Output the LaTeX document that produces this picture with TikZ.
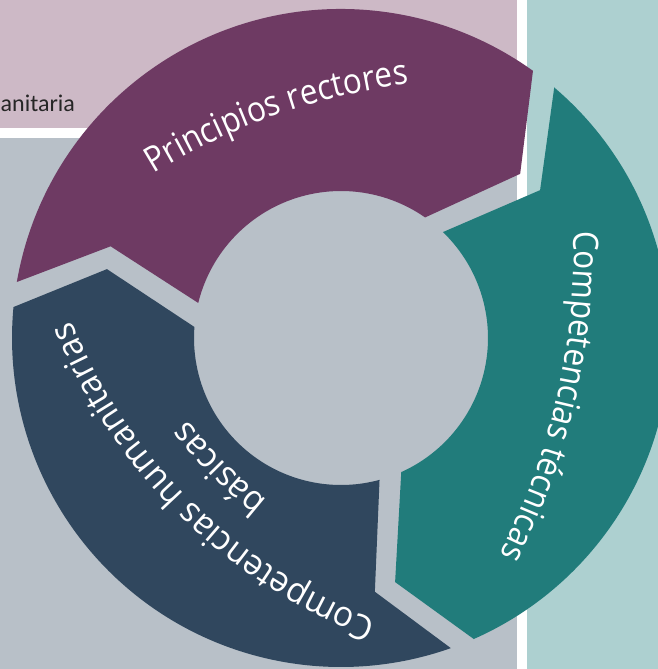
\documentclass[tikz,border=0pt]{standalone}
\usepackage{fontspec}
\newfontfamily\labfont[FakeStretch=0.9]{Open Sans}
\newfontfamily\labfontw[FakeStretch=0.96]{Open Sans}
\newfontfamily\anfont{Carlito}
\usetikzlibrary{decorations.text,calc}
\definecolor{bgpink}{RGB}{205,185,198}
\definecolor{bggray}{RGB}{184,192,200}
\definecolor{bgteal}{RGB}{173,208,208}
\definecolor{arpurple}{RGB}{110,58,99}
\definecolor{arteal}{RGB}{33,124,123}
\definecolor{arblue}{RGB}{48,71,94}
\definecolor{antext}{RGB}{38,38,38}
\begin{document}
\begin{tikzpicture}[x=1pt,y=1pt,
  arctext/.style={decorate, decoration={text along path, text align=center,
    text color=white, text={|\labfont\fontsize{35}{42}\selectfont|#1}}},
  arctextw/.style={decorate, decoration={text along path, text align=center,
    text color=white, text={|\labfontw\fontsize{35}{42}\selectfont|#1}}}]
\useasboundingbox (0,0) rectangle (658,-669);
\fill[white] (0,0) rectangle (658,-669);
\fill[bgpink] (0,0) rectangle (517,-128);
\fill[bggray] (0,-138) rectangle (517,-669);
\fill[bgteal] (527,0) rectangle (658,-669);
\node[anchor=base west, inner sep=0pt, font=\anfont\fontsize{24}{28}\selectfont, text=antext] (lbl) at (0.5,-111.5) {anitaria};
\coordinate (O) at (341,-338);
\begin{scope}[shift={(O)}]
  % purple
  \fill[arpurple] (170.2:329) arc[start angle=170.2,end angle=54.3,radius=329]
    -- (42.5:243) -- (55.1:147) arc[start angle=55.1,end angle=166.2,radius=147]
    -- (158.3:248) -- cycle;
  % teal
  \fill[arteal] (49.6:329) arc[start angle=49.6,end angle=-66.2,radius=329]
    -- (-77.5:250) -- (-65.8:147) arc[start angle=-65.8,end angle=46.1,radius=147]
    -- (36.6:248) -- cycle;
  % dark blue
  \fill[arblue] (-70.5:329) arc[start angle=-70.5,end angle=-185.4,radius=329]
    -- (-196.4:244) -- (-184.3:147) arc[start angle=-184.3,end angle=-74.8,radius=147]
    -- (-82.4:256) -- cycle;
\end{scope}
\coordinate (tp) at (488,-716);
\coordinate (tt) at (-96,-248);
\coordinate (tb) at (568,-121);
\path[arctext={Principios rectores}] ($(tp)+(124.55:637)$) arc[start angle=124.55,end angle=94.25,radius=637];
\path[arctext={Competencias técnicas}] ($(tt)+(5.1:670)$) arc[start angle=5.1,end angle=-30.9,radius=670];
\path[arctextw={Competencias humanitarias}] ($(tb)+(255.5:535)$) arc[start angle=255.5,end angle=195.5,radius=535];
\path[arctextw={básicas}] ($(tb)+(239.9:484)$) arc[start angle=239.9,end angle=209.9,radius=484];
\end{tikzpicture}
\end{document}
